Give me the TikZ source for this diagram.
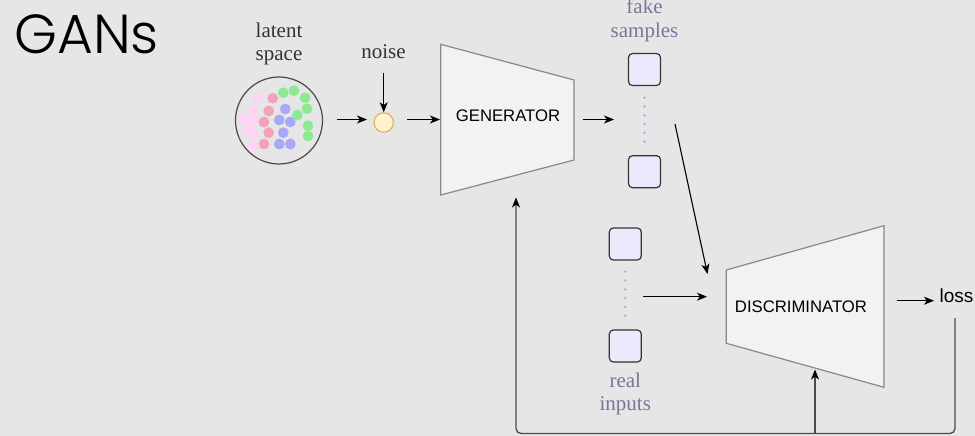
\documentclass[tikz,border=0pt]{standalone}
\usepackage{fontspec}
\setmainfont{Liberation Serif}
\setsansfont{Liberation Sans}
\newfontfamily\titlefont{Poppins}[UprightFont=* Light]
\usetikzlibrary{arrows.meta}
\definecolor{bg}{HTML}{E6E6E6}
\definecolor{lpink}{HTML}{FFD3F4}
\definecolor{mpink}{HTML}{F4A2BC}
\definecolor{mblue}{HTML}{A8A8FA}
\definecolor{mgreen}{HTML}{8EEA92}
\definecolor{noisefill}{HTML}{FFF2CC}
\definecolor{noisedraw}{HTML}{D6B656}
\definecolor{sqfill}{HTML}{EBEAFD}
\definecolor{dotblue}{HTML}{9DAEE6}
\definecolor{lblgray}{HTML}{77779A}
\definecolor{trapfill}{HTML}{F2F2F2}
\definecolor{trapdraw}{HTML}{888888}
\definecolor{loopgray}{HTML}{4A4A4A}
\tikzset{
  arr/.style={-{Stealth[length=10pt,width=8pt,inset=2.8pt]}, line width=1.1pt, black},
  looparr/.style={-{Stealth[length=10pt,width=8pt,inset=2.8pt,color=black]}, line width=1.3pt, loopgray, rounded corners=5pt},
  trap/.style={draw=trapdraw, fill=trapfill, line width=1.2pt, line join=miter},
  ldot/.style={circle, inner sep=0pt, minimum size=10.8pt},
  sq/.style={draw=black!80, fill=sqfill, line width=1.2pt, rounded corners=4pt, minimum size=32pt, inner sep=0pt},
  dotline/.style={dotblue, line width=2.6pt, line cap=round, dash pattern=on 0pt off 8.8pt},
  serlab/.style={font=\fontsize{21}{23}\selectfont, inner sep=0pt},
  sanslab/.style={font=\sffamily\fontsize{16.7}{20}\selectfont, inner sep=0pt}
}
\begin{document}
\begin{tikzpicture}[x=1pt,y=-1pt]
\fill[bg] (0,0) rectangle (975,436);
\useasboundingbox (0,0) rectangle (975,436);

% title
\node[anchor=base west, inner sep=0pt, font=\titlefont\fontsize{55}{60}\selectfont] (title) at (14,53.3) {GANs};

% latent space
\node[serlab, anchor=base, text=black!80] (lat1) at (279,38) {latent};
\node[serlab, anchor=base, text=black!80] (lat2) at (279,60) {space};
\node[circle, draw=loopgray, line width=1.2pt, minimum size=87pt, inner sep=0pt] (latent) at (279,120.5) {};
\foreach \x/\y [count=\i] in {257.7/98.3, 253.3/111, 242.3/119, 253.3/121, 246.7/130, 253.3/133.3, 253.3/146}
  \node[ldot, fill=lpink] (lp\i) at (\x,\y) {};
\foreach \x/\y [count=\i] in {272.7/98.3, 268.7/111, 264/122, 268.7/132.7, 264/144}
  \node[ldot, fill=mpink] (mp\i) at (\x,\y) {};
\foreach \x/\y [count=\i] in {285.3/109, 279.3/120, 290.3/122, 283.3/132.7, 279.3/144, 290.3/144}
  \node[ldot, fill=mblue] (bl\i) at (\x,\y) {};
\foreach \x/\y [count=\i] in {283.3/92.7, 294/90.7, 305/97.7, 307/108.7, 297.3/115, 308/125.7, 308/136}
  \node[ldot, fill=mgreen] (gr\i) at (\x,\y) {};

% noise
\node[serlab, anchor=base, text=black!80] (noiselab) at (383.5,59) {noise};
\node[circle, draw=noisedraw, fill=noisefill, line width=1.1pt, minimum size=19.4pt, inner sep=0pt] (noise) at (383.7,122.5) {};
\coordinate (noisetop) at (383.7,73);
\draw[arr] (noisetop) -- (noise.north);
\coordinate (a1s) at (337,119.5);
\coordinate (a1e) at (367,119.5);
\draw[arr] (a1s) -- (a1e);

% generator
\coordinate (g1) at (440.7,44.3);
\coordinate (g2) at (574,80);
\coordinate (g3) at (574,160);
\coordinate (g4) at (440.7,195);
\draw[trap] (g1) -- (g2) -- (g3) -- (g4) -- cycle;
\node[sanslab] (gen) at (508,116) {GENERATOR};
\coordinate (a2s) at (407,119.5);
\coordinate (a2e) at (440,119.5);
\draw[arr] (a2s) -- (a2e);

% fake samples
\node[serlab, anchor=base, text=lblgray] (fake1) at (644.5,13.8) {fake};
\node[serlab, anchor=base, text=lblgray] (fake2) at (644.5,37.3) {samples};
\node[sq] (f1) at (644.5,69.5) {};
\node[sq] (f2) at (644.5,171.7) {};
\coordinate (fd1) at (644.5,97.7);
\coordinate (fd2) at (644.5,142);
\draw[dotline] (fd1) -- (fd2);
\coordinate (a3s) at (582.5,119.5);
\coordinate (a3e) at (614,119.5);
\draw[arr] (a3s) -- (a3e);

% real inputs
\node[sq] (r1) at (625.3,244) {};
\node[sq] (r2) at (625.3,346) {};
\coordinate (rd1) at (625.3,271.7);
\coordinate (rd2) at (625.3,316);
\draw[dotline] (rd1) -- (rd2);
\node[serlab, anchor=base, text=lblgray] (real1) at (625.3,387) {real};
\node[serlab, anchor=base, text=lblgray] (real2) at (625.3,410) {inputs};

% discriminator
\coordinate (d1) at (726.3,270);
\coordinate (d2) at (884,225.7);
\coordinate (d3) at (884,387.3);
\coordinate (d4) at (726.3,343.3);
\draw[trap] (d1) -- (d2) -- (d3) -- (d4) -- cycle;
\node[sanslab] (disc) at (801,306.7) {DISCRIMINATOR};

\coordinate (a4s) at (675,124);
\coordinate (a4e) at (707.5,274);
\draw[arr] (a4s) -- (a4e);
\coordinate (a5s) at (643,296.7);
\coordinate (a5e) at (707,296.7);
\draw[arr] (a5s) -- (a5e);

% loss
\node[anchor=base west, inner sep=0pt, font=\sffamily\fontsize{19}{22}\selectfont] (loss) at (939.5,302.7) {loss};
\coordinate (a6s) at (896.7,300.7);
\coordinate (a6e) at (934,300.7);
\draw[arr] (a6s) -- (a6e);

% feedback loop
\coordinate (ls) at (955,318);
\coordinate (lb) at (955,433.5);
\coordinate (gb) at (516,433.5);
\coordinate (gt) at (516,197.5);
\coordinate (db) at (815,433.5);
\coordinate (dt) at (815,369.5);
\draw[looparr] (ls) -- (lb) -- (gb) -- (gt);
\draw[looparr] (db) -- (dt);
\end{tikzpicture}
\end{document}
